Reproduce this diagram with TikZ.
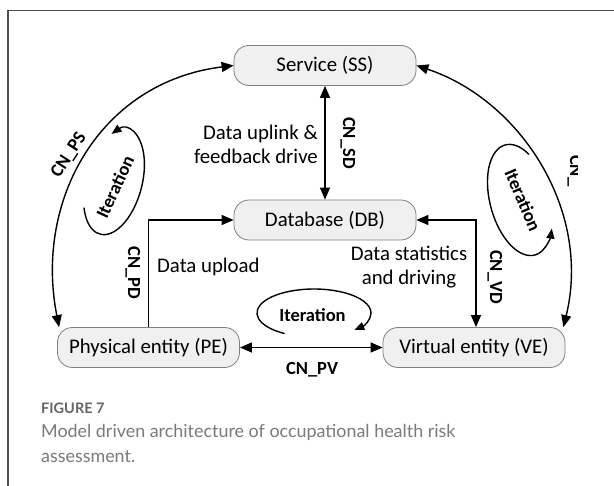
\documentclass[tikz,border=0pt]{standalone}
\usepackage{fontspec}
\setmainfont{Carlito}
\newfontfamily\capfont{Lato}
\usetikzlibrary{arrows.meta,calc}
\definecolor{boxfill}{HTML}{F0F0F0}
\definecolor{boxline}{HTML}{808080}
\definecolor{framegray}{HTML}{4D4D4D}
\definecolor{capgray}{HTML}{7A7A7A}
\definecolor{capdark}{HTML}{666666}
\tikzset{
  entity/.style={draw=boxline, fill=boxfill, line width=0.8pt, rounded corners=15pt,
    minimum width=182pt, minimum height=40pt, inner sep=0pt,
    font=\fontsize{20.8}{24.4}\selectfont},
  txt/.style={inner sep=0pt, font=\fontsize{20.8}{24}\selectfont},
  lbl/.style={inner sep=0pt, font=\fontsize{18.5}{22}\selectfont\bfseries},
  conn/.style={line width=1.4pt, -{Triangle[length=12pt,width=10pt]}},
  biconn/.style={line width=1.4pt, {Triangle[length=12pt,width=10pt]}-{Triangle[length=12pt,width=10pt]}},
  iterloop/.style={line width=1.4pt, -{Triangle[length=10pt,width=8pt]}},
}
\begin{document}
\begin{tikzpicture}[x=1pt,y=-1pt]
\useasboundingbox (0,0) rectangle (614,486);
\fill[white] (0,0) rectangle (614,486);
% panel frame
\draw[framegray, line width=1.6pt] (614,10.5) -- (8,10.5) -- (8,486);

% entities
\node[entity] (SS) at (325,65.5) {Service (SS)};
\node[entity] (DB) at (325,220) {Database (DB)};
\node[entity] (PE) at (148.5,347.5) {Physical entity (PE)};
\node[entity] (VE) at (474,347.5) {Virtual entity (VE)};

% connectors
\draw[biconn] (SS) -- (DB);
\draw[conn] (PE.north) |- (DB.west);
\draw[biconn] ([xshift=2pt]VE.north) |- (DB.east);
\draw[biconn] (PE) -- (VE);
\draw[biconn] ([xshift=2pt]PE.north west) .. controls (34,200) and (100,82) .. (SS.west);
\draw[biconn] ([xshift=-2pt]VE.north east) .. controls (592,210) and (520,100) .. (SS.east);

% iteration loops
\begin{scope}[shift={(314,313)}]
  \draw[iterloop] (239:57pt and 24pt) arc[start angle=239, end angle=-45, x radius=57pt, y radius=24pt];
\end{scope}
\begin{scope}[shift={(114,182)}, rotate=75]
  \draw[iterloop] (127:54pt and 28pt) arc[start angle=127, end angle=392, x radius=54pt, y radius=28pt];
\end{scope}
\begin{scope}[shift={(520,200)}, rotate=-75]
  \draw[iterloop] (137:57pt and 30pt) arc[start angle=137, end angle=411, x radius=57pt, y radius=30pt];
\end{scope}
\node[lbl] (itm) at (312.5,315) {Iteration};
\node[lbl, rotate=65] (itl) at (115,187) {Iteration};
\node[lbl, rotate=-67] (itr) at (523,200) {Iteration};

% connector labels
\node[lbl, rotate=-90] (cnsd) at (348,143) {CN\_SD};
\node[lbl, rotate=-90] (cnpd) at (133,273) {CN\_PD};
\node[lbl, rotate=-90] (cnvd) at (495,277) {CN\_VD};
\node[lbl] (cnpv) at (312,370) {CN\_PV};
\node[lbl, rotate=57] (cnps) at (69,155) {CN\_PS};
\begin{scope}
  \clip (540,100) rectangle (577,240);
  \node[lbl, rotate=-90, anchor=base west] (cnvs) at (570,155) {CN\_};
\end{scope}

% descriptions
\node[txt, align=right, anchor=east] (t1) at (318,144) {Data uplink \&\\feedback drive};
\node[txt, anchor=west] (t2) at (157,267) {Data upload};
\node[txt, align=center] (t3) at (409,267) {Data statistics\\and driving};

% caption
\node[anchor=west, inner sep=0pt, font=\capfont\fontsize{14.5}{16}\selectfont\bfseries, text=capdark] (fig) at (41,408) {FIGURE 7};
\node[anchor=north west, inner sep=0pt, align=left, font=\capfont\fontsize{17.9}{25}\selectfont, text=capgray] (cap) at (41,424) {Model driven architecture of occupational health risk\\assessment.};
\end{tikzpicture}
\end{document}
